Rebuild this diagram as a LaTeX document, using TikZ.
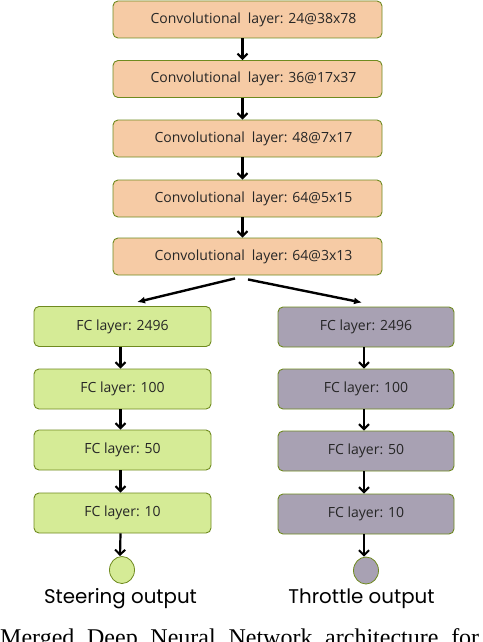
\documentclass[tikz,border=0pt]{standalone}
\usepackage{fontspec}
\setmainfont{Open Sans}
\newfontfamily\labfont{Poppins}
\newfontfamily\capfont{Liberation Serif}
\usetikzlibrary{arrows.meta,shapes.geometric}
\definecolor{peach}{HTML}{F6CBA5}
\definecolor{lgreen}{HTML}{D5EB96}
\definecolor{lpurple}{HTML}{A8A1B3}
\definecolor{olive}{HTML}{6F8A1F}
\begin{document}
\begin{tikzpicture}[x=1pt,y=-1pt,
  box/.style={draw=olive, line width=0.9pt, rounded corners=5pt, inner sep=0pt,
    font=\fontsize{14}{16}\selectfont, text=black!85},
  conv/.style={box, fill=peach, minimum width=269pt, minimum height=37pt},
  fcl/.style={box, fill=lgreen, minimum width=177pt, minimum height=40pt},
  fcr/.style={box, fill=lpurple, minimum width=176pt, minimum height=40pt},
  outl/.style={draw=olive, line width=0.8pt, ellipse, minimum width=25pt, minimum height=27pt, inner sep=0pt},
  arr/.style={-{Straight Barb[length=5pt,width=10pt,line width=2pt]}, line width=2.2pt},
  sarr/.style={-{Latex[length=8pt,width=7pt]}, line width=2.4pt},
  lab/.style={font=\labfont\fontsize{19.8}{22}\selectfont, inner sep=0pt, anchor=base}]
\useasboundingbox (0,0) rectangle (482,642);
\node[conv] (c1) at (247.5,19.5) {\hspace*{12pt}Convolutional\hspace{0.5em}layer: 24@38x78};
\node[conv] (c2) at (247.5,79) {\hspace*{12pt}Convolutional\hspace{0.5em}layer: 36@17x37};
\node[conv] (c3) at (247.5,138.5) {\hspace*{12pt}Convolutional\hspace{0.5em}layer: 48@7x17};
\node[conv] (c4) at (247.5,198.5) {\hspace*{12pt}Convolutional\hspace{0.5em}layer: 64@5x15};
\node[conv] (c5) at (247.5,256.5) {\hspace*{12pt}Convolutional\hspace{0.5em}layer: 64@3x13};
\node[fcl] (f1) at (122.5,326.5) {FC layer: 2496};
\node[fcl] (f2) at (122.5,389) {FC layer: 100};
\node[fcl] (f3) at (122.5,450) {FC layer: 50};
\node[fcl] (f4) at (122.5,513) {FC layer: 10};
\node[fcr] (g1) at (366,327) {FC layer: 2496};
\node[fcr] (g2) at (366,389) {FC layer: 100};
\node[fcr] (g3) at (366,451) {FC layer: 50};
\node[fcr] (g4) at (366,514) {FC layer: 10};
\node[outl, fill=lgreen] (so) at (122,570) {};
\node[outl, fill=lpurple] (to) at (366,570.5) {};
\node[lab] (sl) at (120.5,603) {Steering output};
\node[lab] (tl) at (361.5,603) {Throttle output};
\node[font=\capfont\fontsize{24}{26}\selectfont, inner sep=0pt, anchor=base west] (cap) at (0,645)
  {\makebox[479pt][s]{Merged Deep Neural Network architecture for}};
\foreach \a/\b in {c1/c2,c2/c3,c3/c4,c4/c5}
  \draw[arr] ([xshift=-5pt]\a.south) -- ([xshift=-5pt]\b.north);
\foreach \a/\b in {f1/f2,f2/f3,f3/f4,f4/so}
  \draw[arr] ([xshift=-2pt]\a.south) -- ([xshift=-2pt]\b.north);
\foreach \a/\b in {g1/g2,g2/g3,g3/g4,g4/to}
  \draw[arr] ([xshift=-2pt]\a.south) -- ([xshift=-2pt]\b.north);
\draw[sarr] ([xshift=-12.5pt,yshift=-3pt]c5.south) -- ([xshift=14.5pt,yshift=4pt]f1.north);
\draw[sarr] ([xshift=0.5pt,yshift=-4pt]c5.south) -- ([xshift=-4pt,yshift=4pt]g1.north);
\end{tikzpicture}
\end{document}
